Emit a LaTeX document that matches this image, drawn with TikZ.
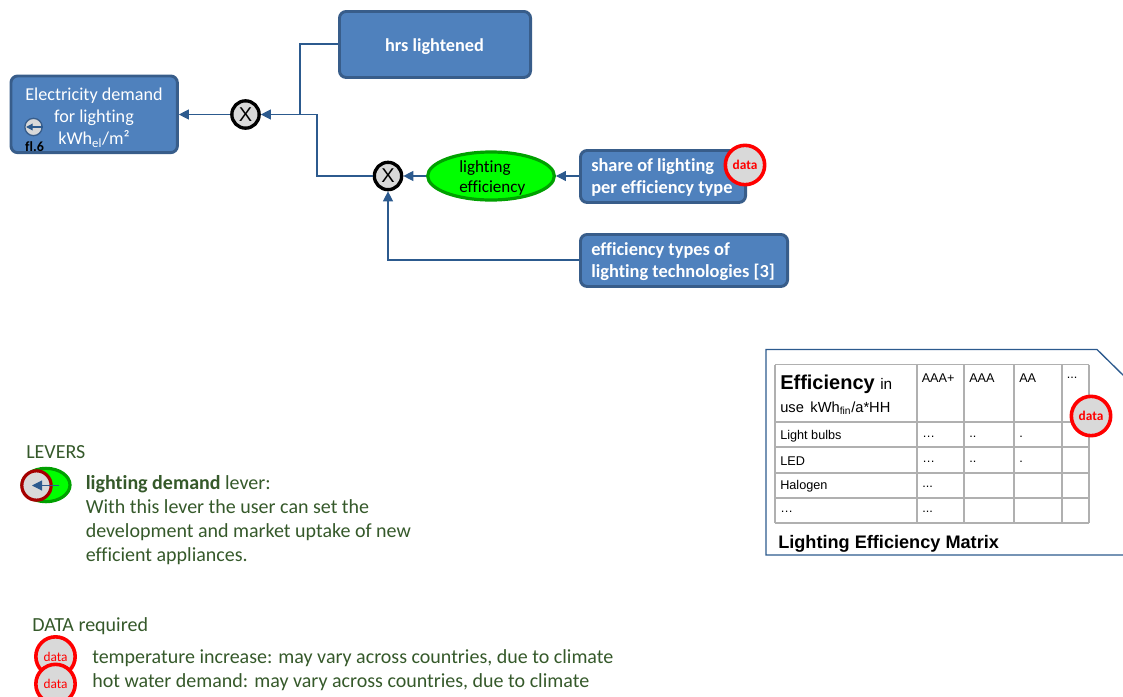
\documentclass[tikz,border=0pt]{standalone}
\usepackage{fontspec}
\setmainfont{Carlito}[Ligatures=NoCommon]
\newfontfamily\arialf{Liberation Sans}
\usetikzlibrary{arrows.meta,shapes.geometric}
\definecolor{boxfill}{HTML}{4F81BD}
\definecolor{boxline}{HTML}{385D8A}
\definecolor{conn}{HTML}{2C5A8E}
\definecolor{lvtext}{HTML}{35592A}
\definecolor{grayfill}{HTML}{D9D9D9}
\definecolor{tabline}{HTML}{B0B0B0}
\definecolor{effline}{HTML}{00A000}
\tikzset{
 x=0.75pt,y=-0.75pt,
 bluebox/.style={draw=boxline,fill=boxfill,line width=2.2pt,rounded corners=5pt,text=white,inner sep=0pt,align=left,anchor=north west},
 conline/.style={draw=conn,line width=0.8pt,-{Triangle[length=7.5pt,width=7.5pt]}},
 plainline/.style={draw=conn,line width=0.8pt},
 xnode/.style={circle,draw=black,fill=grayfill,line width=2.5pt,minimum size=20.5pt,inner sep=0pt,font=\fontsize{15}{15}\arialf},
 datac/.style={circle,draw=red,fill=grayfill,line width=2.7pt,minimum size=29.5pt,inner sep=0pt,text=red,font=\fontsize{10}{10}\selectfont\bfseries},
 datal/.style={circle,draw=red,fill=grayfill,line width=2.7pt,minimum size=29.5pt,inner sep=0pt,text=red,font=\fontsize{10}{10}\selectfont},
 lvt/.style={text=lvtext,anchor=west,inner sep=0pt,font=\fontsize{15}{18}\selectfont},
 cell/.style={anchor=west,inner sep=0pt,font=\fontsize{9.5}{10}\arialf},
 grid/.style={draw=tabline,line width=1pt},
}
\begin{document}
\begin{tikzpicture}
\useasboundingbox (0,0) rectangle (1123,696);
\clip (0,0) rectangle (1123,696);
% blue boxes
\node[bluebox,minimum width=124.8pt,minimum height=57.5pt] (demand) at (9.5,74.5) {};
\node[text=white,inner sep=0pt,align=center,font=\fontsize{13.6}{16.5}\selectfont,anchor=north] (demandt) at (94,88) {Electricity demand\\for lighting\\kWh\textsubscript{el}/m²};
\node[bluebox,minimum width=143.3pt,minimum height=49.5pt] (hrs) at (338,10) {};
\node[text=white,inner sep=0pt,font=\fontsize{13.7}{16.5}\selectfont\bfseries] (hrst) at (434.5,46.5) {hrs lightened};
\node[bluebox,minimum width=123.8pt,minimum height=39pt] (share) at (579,149) {};
\node[text=white,inner sep=0pt,anchor=west,align=left,font=\fontsize{13.8}{16.5}\selectfont\bfseries] (sharet) at (591,177.5) {share of lighting\\per efficiency type};
\node[bluebox,minimum width=155.3pt,minimum height=39pt] (types) at (579,233) {};
\node[text=white,inner sep=0pt,anchor=west,align=left,font=\fontsize{13.8}{16.5}\selectfont\bfseries] (typest) at (591,261.5) {efficiency types of\\lighting technologies [3]};
% operators and ellipse
\node[xnode] (x1) at (245.5,114.5) {X};
\node[xnode] (x2) at (388,176) {X};
\node[ellipse,draw=effline,fill=green,line width=2.4pt,minimum width=95pt,minimum height=36pt,inner sep=0pt] (eff) at (491,176) {};
\node[inner sep=0pt,anchor=west,align=left,font=\fontsize{12.8}{15}\selectfont] (efft) at (459,177.5) {lighting\\efficiency};
% connectors
\coordinate (j1) at (300,44);
\coordinate (j2) at (300,114.5);
\coordinate (j3) at (317,176);
\coordinate (j4) at (317,114.5);
\coordinate (j5) at (388,260);
\draw[conline] (x1) -- (demand.east |- x1);
\draw[plainline] (hrs.west |- j1) -- (j1) -- (j2);
\draw[conline] (x2.west) -- (j3) -- (j4) -- (x1.east);
\draw[conline] (eff.west) -- (x2.east);
\draw[conline] (share.west |- eff) -- (eff.east);
\draw[conline] (types.west |- j5) -- (j5) -- (x2.south);
% small lever in the demand box
\node[circle,draw=boxline,fill=grayfill,line width=1pt,minimum size=13pt,inner sep=0pt] (mini) at (33.5,127) {};
\coordinate (minil) at (26,127);
\draw[conn,line width=0.9pt,-{Triangle[length=5pt,width=5pt]}] (mini.east) -- (minil);
\node[inner sep=0pt,font=\fontsize{10.5}{12}\selectfont\bfseries] (fl) at (34.5,147) {fl.6};
% data circle on share box
\node[datac] (d1) at (745,165) {data};
% levers
\node[lvt] (levh) at (26,452) {LEVERS};
\node[ellipse,draw=effline,fill=green,line width=2.4pt,minimum width=36pt,minimum height=25pt,inner sep=0pt] (lgreen) at (46,485) {};
\node[circle,draw=red!65!black,fill=grayfill,line width=2.4pt,minimum size=22pt,inner sep=0pt] (lgray) at (36.5,485.5) {};
\coordinate (la) at (59,485.5);
\coordinate (lb) at (32,485.5);
\draw[conn,line width=0.8pt,-{Triangle[length=7.5pt,width=7.5pt]}] (la) -- (lb);
\node[lvt,align=left,anchor=north west] (levt) at (85.5,475.5) {\textbf{lighting demand} lever:\\With this lever the user can set the\\development and market uptake of new\\efficient appliances.};
% data required
\node[lvt] (dath) at (32,626) {DATA required};
\node[datal] (d2) at (55.5,656.5) {data};
\node[datal] (d3) at (55.5,684) {data};
\node[lvt] (dt1) at (92,658) {temperature increase: may vary across countries, due to climate};
\node[lvt] (dt2) at (92,682) {hot water demand: may vary across countries, due to climate};
% matrix sheet
\coordinate (s1) at (766,555);
\coordinate (s2) at (766,349.5);
\coordinate (s3) at (1097,349.5);
\coordinate (s4) at (1125,377);
\coordinate (s5) at (1125,555);
\draw[plainline,line width=1pt] (s4) -- (s3) -- (s2) -- (s1) -- (s5);
% table grid
\foreach \xx in {775,917,964,1014,1062,1089} \draw[grid] (\xx,364.5) -- (\xx,523);
\foreach \yy in {364.5,422,447,473,498,523} \draw[grid] (775,\yy) -- (1089,\yy);
\node[cell,font=\fontsize{11.5}{14}\arialf] (th) at (780,384) {\fontsize{15}{14}\selectfont\bfseries Efficiency \fontsize{11.5}{14}\selectfont\mdseries in};
\node[cell,font=\fontsize{11}{14}\arialf] (th2) at (780,408) {use\, kWh\textsubscript{fin}/a*HH};
\node[cell] (h1) at (921.5,378) {AAA+};
\node[cell] (h2) at (969,378) {AAA};
\node[cell] (h3) at (1019,378) {AA};
\node[cell] (h4) at (1066.5,378) {...};
\node[cell] (r1) at (780,436.5) {Light bulbs};
\node[cell] (r2) at (780,461.5) {LED};
\node[cell] (r3) at (780,486.5) {Halogen};
\node[cell] (r4) at (780,512) {…};
\node[cell] (c11) at (922,436.5) {…};
\node[cell] (c12) at (969,436.5) {..};
\node[cell] (c13) at (1019,436.5) {.};
\node[cell] (c21) at (922,461.5) {…};
\node[cell] (c22) at (969,461.5) {..};
\node[cell] (c23) at (1019,461.5) {.};
\node[cell] (c31) at (922,486.5) {...};
\node[cell] (c41) at (922,512) {...};
\node[datac] (d4) at (1091,416) {data};
\node[anchor=west,inner sep=0pt,font=\fontsize{13.6}{14}\arialf\bfseries] (tt) at (778,544) {Lighting Efficiency Matrix};
\end{tikzpicture}
\end{document}
